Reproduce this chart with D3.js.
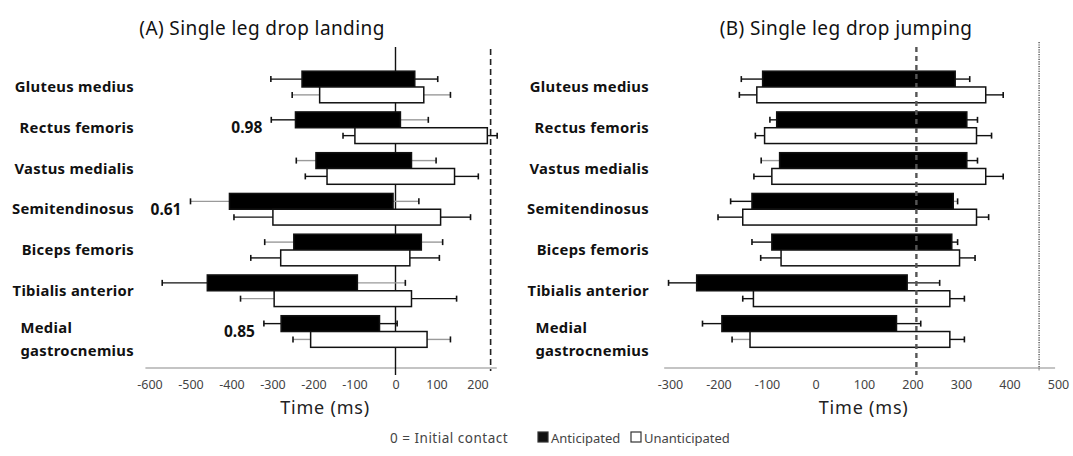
<!DOCTYPE html>
<html><head><meta charset="utf-8">
<script src="https://cdn.jsdelivr.net/npm/d3@7"></script>
<style>body{margin:0;background:#fff}svg{display:block}</style>
</head><body><svg id="c" width="1073" height="456"></svg>
<script>
// ---------- data ----------
const muscles = ["Gluteus medius","Rectus femoris","Vastus medialis","Semitendinosus","Biceps femoris","Tibialis anterior","Medial gastrocnemius"];
const conditions = ["Anticipated","Unanticipated"];

// (A) Single leg drop landing (ms, 0 = initial contact)
const landAntOnset    = [-228,-244,-194,-405,-248,-459,-279];
const landAntOnsetSD  = [76,59,48,95,71,110,42];
const landAntOffset   = [47,12,39,-6,63,-93,-39];
const landAntOffsetSD = [56,68,60,63,52,117,43];
const landUnaOnset    = [-185,-99,-167,-299,-280,-296,-207];
const landUnaOnsetSD  = [67,29,53,95,73,82,43];
const landUnaOffset   = [69,224,144,110,35,39,77];
const landUnaOffsetSD = [65,24,58,73,72,110,57];

// (B) Single leg drop jumping
const jumpAntOnset    = [-109,-80,-74,-131,-90,-245,-193];
const jumpAntOnsetSD  = [44,14,38,44,41,58,40];
const jumpAntOffset   = [288,312,312,284,281,189,167];
const jumpAntOffsetSD = [30,22,22,9,12,67,50];
const jumpUnaOnset    = [-121,-105,-90,-150,-71,-128,-135];
const jumpUnaOnsetSD  = [36,19,37,51,42,22,37];
const jumpUnaOffset   = [351,332,351,332,297,277,277];
const jumpUnaOffsetSD = [36,31,36,25,32,30,30];

const ticksA = [-600,-500,-400,-300,-200,-100,0,100,200];
const ticksB = [-300,-200,-100,0,100,200,300,400,500];
const refLineA = 232;          // dashed line, landing
const refLinesB = [208, 461];  // dashed + dotted, jumping
const annotMuscles = ["Rectus femoris","Semitendinosus","Medial gastrocnemius"];
const annotTexts = ["0.98","0.61","0.85"];

// faint (gray) error whiskers: panel-condition-side-index
const faint = new Set(["A-0-L-2","A-0-L-3","A-0-L-4","A-0-R-1","A-0-R-2","A-0-R-3","A-0-R-4","A-0-R-5",
  "A-1-L-0","A-1-L-5","A-1-L-6","A-1-R-0","A-1-R-6","B-0-L-2","B-0-R-3","B-1-L-6"]);

// ---------- drawing ----------
const svg = d3.select("#c");
const FONT = "'Noto Sans', 'Open Sans', sans-serif";
const y = d3.scaleBand().domain(muscles).range([66.6, 351.9]);
const yIn = d3.scaleBand().domain(conditions).range([-15.8, 15.8]);
const axisY = 368;
const LBL = 14.8, LSP = 0.3;

function panel(id, x, labelRight, domainLine, title, titleX) {
  const g = svg.append("g");
  muscles.forEach(m => {
    const cy = y(m) + y.bandwidth()/2;
    const words = m === "Medial gastrocnemius" ? ["Medial","gastrocnemius"] : [m];
    const mk = () => g.append("text").attr("dy","0.35em").attr("font-family",FONT).attr("font-weight","bold")
        .attr("font-size",LBL).attr("letter-spacing",LSP).attr("fill","#111");
    if (words.length === 1) {
      mk().attr("x", labelRight).attr("y", cy).attr("text-anchor","end").text(m);
    } else {
      const t2 = mk().attr("x", labelRight).attr("y", cy+19).attr("text-anchor","end").text(words[1]);
      const w = t2.node().getComputedTextLength();
      mk().attr("x", labelRight - w).attr("y", cy-4).text(words[0]);
    }
  });
  g.append("line").attr("x1", x(domainLine[0])).attr("x2", x(domainLine[1]))
    .attr("y1", axisY).attr("y2", axisY).attr("stroke","#8a8a8a").attr("stroke-width",1.2);
  const ax = g.append("g").attr("transform",`translate(0,${axisY+9})`)
    .call(d3.axisBottom(x).tickValues(id==="A"?ticksA:ticksB).tickSize(0).tickFormat(d=>String(d)));
  ax.select(".domain").remove();
  ax.selectAll("text").attr("font-family",FONT).attr("font-size",12.5).attr("fill","#444");
  g.append("text").attr("x", (x(domainLine[0])+x(domainLine[1]))/2 + 4).attr("y", 414)
    .attr("text-anchor","middle").attr("font-family",FONT).attr("font-size",18).attr("letter-spacing",0.8)
    .attr("fill","#222").text("Time (ms)");
  g.append("text").attr("x", titleX).attr("y", 35).attr("text-anchor","middle")
    .attr("font-family",FONT).attr("font-size",19).attr("letter-spacing",0.4).attr("fill","#111").text(title);
  return g;
}

function bars(g, id, x, series) {
  series.forEach((s, ci) => {
    const cond = conditions[ci];
    muscles.forEach((m, i) => {
      const top = y(m) + y.bandwidth()/2 + yIn(cond);
      const h = yIn.bandwidth();
      const cy = top + h/2;
      const x0 = x(s.on[i]), x1 = x(s.off[i]);
      const xl = x(s.on[i] - s.onSD[i]), xr = x(s.off[i] + s.offSD[i]);
      const colL = faint.has(`${id}-${ci}-L-${i}`) ? "#9a9a9a" : "#111";
      const colR = faint.has(`${id}-${ci}-R-${i}`) ? "#9a9a9a" : "#111";
      g.append("line").attr("x1", xl).attr("x2", x0).attr("y1", cy).attr("y2", cy).attr("stroke", colL).attr("stroke-width",1.4);
      g.append("line").attr("x1", xl).attr("x2", xl).attr("y1", cy-3).attr("y2", cy+3).attr("stroke", "#111").attr("stroke-width",1.6);
      g.append("line").attr("x1", x1).attr("x2", xr).attr("y1", cy).attr("y2", cy).attr("stroke", colR).attr("stroke-width",1.4);
      g.append("line").attr("x1", xr).attr("x2", xr).attr("y1", cy-3).attr("y2", cy+3).attr("stroke", "#111").attr("stroke-width",1.6);
      g.append("rect").attr("x", Math.min(x0,x1)).attr("y", top).attr("width", Math.abs(x1-x0)).attr("height", h)
        .attr("fill", ci===0 ? "#000" : "#fff").attr("stroke","#111").attr("stroke-width",1.5);
    });
  });
}

// Panel A
const xA = d3.scaleLinear().domain([-600, 200]).range([149.5, 477.5]);
const gA = panel("A", xA, 134, [-610, 247], "(A) Single leg drop landing", 262);
gA.append("line").attr("x1", xA(0)).attr("x2", xA(0)).attr("y1", 47).attr("y2", 375).attr("stroke","#111").attr("stroke-width",1.4);
bars(gA, "A", xA, [
  {on: landAntOnset, onSD: landAntOnsetSD, off: landAntOffset, offSD: landAntOffsetSD},
  {on: landUnaOnset, onSD: landUnaOnsetSD, off: landUnaOffset, offSD: landUnaOffsetSD}]);
gA.append("line").attr("x1", xA(refLineA)).attr("x2", xA(refLineA)).attr("y1", 49).attr("y2", 371)
  .attr("stroke","#222").attr("stroke-width",1.6).attr("stroke-dasharray","6,4");
annotMuscles.forEach((m, k) => {
  const i = muscles.indexOf(m);
  gA.append("text").attr("x", xA(landAntOnset[i] - landAntOnsetSD[i]) - 9).attr("y", y(m) + y.bandwidth()/2)
    .attr("dy","0.35em").attr("text-anchor","end").attr("font-family",FONT).attr("font-weight","bold")
    .attr("font-size",15.5).attr("fill","#111").text(annotTexts[k]);
});

// Panel B
const xB = d3.scaleLinear().domain([-300, 500]).range([670, 1058]);
const gB = panel("B", xB, 649, [-312, 494], "(B) Single leg drop jumping", 846);
bars(gB, "B", xB, [
  {on: jumpAntOnset, onSD: jumpAntOnsetSD, off: jumpAntOffset, offSD: jumpAntOffsetSD},
  {on: jumpUnaOnset, onSD: jumpUnaOnsetSD, off: jumpUnaOffset, offSD: jumpUnaOffsetSD}]);
gB.append("line").attr("x1", xB(refLinesB[0])).attr("x2", xB(refLinesB[0])).attr("y1", 47).attr("y2", 375)
  .attr("stroke","#555").attr("stroke-width",2.4).attr("stroke-dasharray","5,4");
gB.append("line").attr("x1", xB(refLinesB[1])).attr("x2", xB(refLinesB[1])).attr("y1", 42).attr("y2", 371)
  .attr("stroke","#444").attr("stroke-width",1.3).attr("stroke-dasharray","1.2,1.2");

// Legend
const lg = svg.append("g").attr("font-family", FONT).attr("font-size", 13).attr("fill", "#444");
lg.append("text").attr("x", 390).attr("y", 443).attr("font-size",13.5).attr("letter-spacing",0.5).text("0 = Initial contact");
const legX = [538, 631];
conditions.forEach((c, k) => {
  lg.append("rect").attr("x", legX[k]).attr("y", 432).attr("width", 10).attr("height", 10)
    .attr("fill", k===0 ? "#111" : "#fff").attr("stroke", "#333").attr("stroke-width", 1.2);
  lg.append("text").attr("x", legX[k] + 13).attr("y", 443).text(c);
});
</script></body></html>
